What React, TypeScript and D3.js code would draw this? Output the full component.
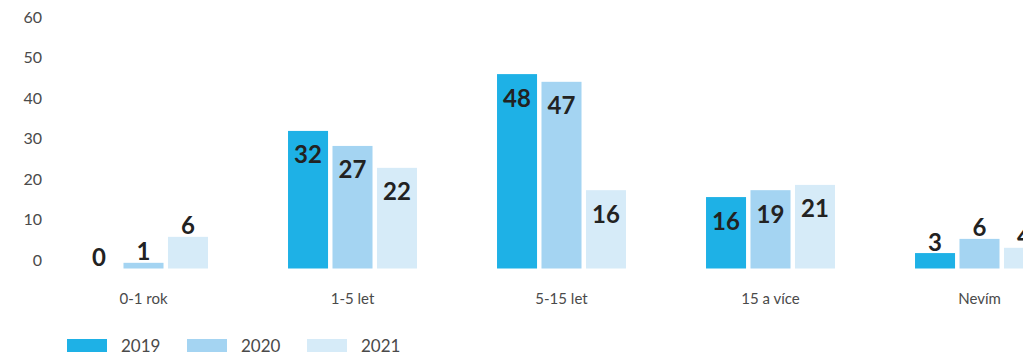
import React from "react";
import * as d3 from "d3";

const categories = ["0-1 rok", "1-5 let", "5-15 let", "15 a více", "Nevím"];
const seriesNames = ["2019", "2020", "2021"];
const colors = ["#1eb1e6", "#a4d4f2", "#d6ebf8"];

// values printed on the bars
const shown2019 = [0, 32, 48, 16, 3];
const shown2020 = [1, 27, 47, 19, 6];
const shown2021 = [6, 22, 16, 21, 4];

// bar lengths as read against the y axis (the infographic's bars are drawn loosely)
const bar2019 = [0, 33.9, 47.9, 17.6, 3.8];
const bar2020 = [1.4, 30.2, 46.0, 19.3, 7.3];
const bar2021 = [7.8, 24.8, 19.3, 20.6, 5.1];

const yTicks = [0, 10, 20, 30, 40, 50, 60];

const W = 1023;
const H = 352;

export default function App() {
  const shown = [shown2019, shown2020, shown2021];
  const bars = [bar2019, bar2020, bar2021];

  const x0 = d3
    .scaleBand<string>()
    .domain(categories)
    .range([39, 1084])
    .paddingInner(0.383)
    .paddingOuter(0.1915);
  const x1 = d3
    .scaleBand<string>()
    .domain(seriesNames)
    .range([0, x0.bandwidth()])
    .paddingInner(0.1);
  const y = d3.scaleLinear().domain([0, 60]).range([268.5, 25]);

  const font = "Lato, 'Open Sans', sans-serif";

  return (
    <svg
      width={W}
      height={H}
      style={{ position: "absolute", left: 0, top: 0, background: "#fff" }}
    >
      {yTicks.map((t) => (
        <text
          key={t}
          x={42}
          y={y(t) - 9}
          textAnchor="end"
          dominantBaseline="central"
          fontFamily={font}
          fontSize={16}
          fill="#4a4a4a"
        >
          {t}
        </text>
      ))}
      {categories.map((c, i) => (
        <g key={c} transform={`translate(${x0(c)},0)`}>
          {seriesNames.map((s, j) => {
            const v = bars[j][i];
            const lab = shown[j][i];
            const bx = x1(s)!;
            const top = y(v);
            const inside = lab >= 10;
            return (
              <g key={s}>
                {v > 0 && (
                  <rect
                    x={bx}
                    y={top}
                    width={x1.bandwidth()}
                    height={y(0) - top}
                    fill={colors[j]}
                  />
                )}
                <text
                  x={bx + x1.bandwidth() / 2}
                  y={inside ? top + 23 : top - 12}
                  textAnchor="middle"
                  dominantBaseline="central"
                  fontFamily={font}
                  fontWeight={700}
                  fontSize={24}
                  fill="#222"
                >
                  {lab}
                </text>
              </g>
            );
          })}
          <text
            x={x0.bandwidth() / 2}
            y={304}
            textAnchor="middle"
            fontFamily={font}
            fontSize={15}
            fill="#4a4a4a"
          >
            {c}
          </text>
        </g>
      ))}
      {seriesNames.map((s, j) => (
        <g key={s} transform={`translate(${67 + j * 120},0)`}>
          <rect x={0} y={339} width={40} height={13} fill={colors[j]} />
          <text
            x={54}
            y={352}
            fontFamily={font}
            fontSize={17}
            fill="#4a4a4a"
          >
            {s}
          </text>
        </g>
      ))}
    </svg>
  );
}
